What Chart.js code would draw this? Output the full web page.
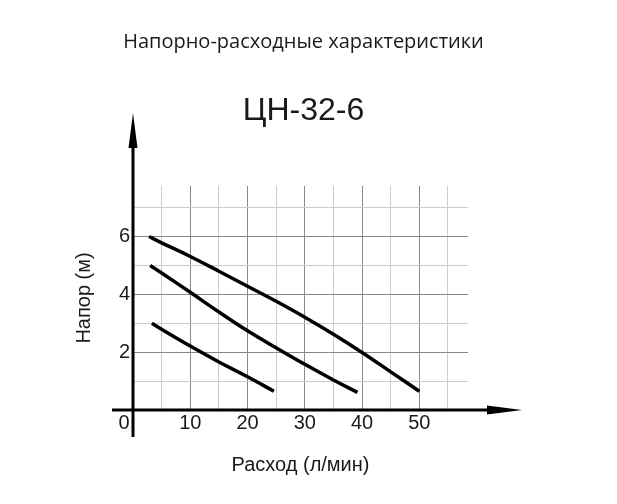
<!DOCTYPE html>
<html>
<head>
<meta charset="utf-8">
<script src="https://cdn.jsdelivr.net/npm/chart.js@4.4.1/dist/chart.umd.min.js"></script>
<style>
  body { margin: 0; background: #fff; }
</style>
</head>
<body>
<canvas id="pumpChart" width="617" height="504"></canvas>
<script>
// Head-flow curves, three speeds (flow l/min -> head m)
const flowHigh = [2.8, 5, 10, 15, 20, 25, 30, 35, 40, 45, 50];
const headHigh = [6.0, 5.78, 5.31, 4.80, 4.28, 3.76, 3.21, 2.62, 1.99, 1.32, 0.65];
const flowMid = [3, 5, 10, 15, 20, 25, 30, 35, 39.2];
const headMid = [5.0, 4.74, 4.07, 3.39, 2.74, 2.15, 1.58, 1.04, 0.61];
const flowLow = [3.3, 5, 10, 15, 20, 24.6];
const headLow = [3.0, 2.79, 2.21, 1.66, 1.15, 0.65];

const xTickLabels = [10, 20, 30, 40, 50];
const yTickLabels = [2, 4, 6];

const toPoints = (xs, ys) => xs.map((x, i) => ({ x: x, y: ys[i] }));

const curve = (xs, ys) => ({
    data: toPoints(xs, ys),
    borderColor: '#000',
    borderWidth: 3.5,
    borderCapStyle: 'butt',
    pointRadius: 0,
    tension: 0.4,
    fill: false
});

// axes with arrows + the lone "0" label
const arrowAxes = {
    id: 'arrowAxes',
    afterDraw(chart) {
        const c = chart.ctx;
        const x = chart.scales.x, y = chart.scales.y;
        const x0 = x.getPixelForValue(0), y0 = y.getPixelForValue(0);
        c.save();
        c.strokeStyle = '#000';
        c.fillStyle = '#000';
        c.lineWidth = 3;
        // x axis
        c.beginPath();
        c.moveTo(x0 - 21, y0);
        c.lineTo(490, y0);
        c.stroke();
        c.beginPath();
        c.moveTo(522, y0);
        c.lineTo(487, y0 - 4.5);
        c.lineTo(487, y0 + 4.5);
        c.closePath();
        c.fill();
        // y axis
        c.beginPath();
        c.moveTo(x0, y0 + 27);
        c.lineTo(x0, 145);
        c.stroke();
        c.beginPath();
        c.moveTo(x0, 113);
        c.lineTo(x0 - 4.5, 148);
        c.lineTo(x0 + 4.5, 148);
        c.closePath();
        c.fill();
        // origin label
        c.font = '20px "Liberation Sans", Arial, sans-serif';
        c.textAlign = 'center';
        c.textBaseline = 'middle';
        c.fillStyle = '#1a1a1a';
        c.fillText('0', x0 - 9, y0 + 13);
        c.restore();
    }
};

const tickFont = { family: '"Liberation Sans", Arial, sans-serif', size: 20 };

new Chart(document.getElementById('pumpChart'), {
    type: 'line',
    data: {
        datasets: [curve(flowHigh, headHigh), curve(flowMid, headMid), curve(flowLow, headLow)]
    },
    options: {
        responsive: false,
        animation: false,
        layout: { padding: { left: 0, right: 10, top: 0, bottom: 27 } },
        plugins: {
            legend: { display: false },
            tooltip: { enabled: false },
            title: {
                display: true,
                text: 'Напорно-расходные характеристики',
                color: '#1a1a1a',
                font: { family: '"Open Sans", sans-serif', size: 20, weight: 'normal' },
                padding: { top: 30, bottom: 38 }
            },
            subtitle: {
                display: true,
                text: 'ЦН-32-6',
                color: '#1a1a1a',
                font: { family: '"Liberation Sans", Arial, sans-serif', size: 32 },
                padding: { top: 0, bottom: 55.5 }
            }
        },
        scales: {
            x: {
                type: 'linear',
                min: 0,
                max: 58.5,
                border: { display: false },
                grid: {
                    drawTicks: false,
                    lineWidth: 1,
                    color: ctx => (ctx.tick && ctx.tick.value % 10 === 0) ? '#888888' : '#cccccc'
                },
                ticks: {
                    stepSize: 5,
                    includeBounds: false,
                    autoSkip: false,
                    maxRotation: 0,
                    padding: 1,
                    color: '#1a1a1a',
                    font: tickFont,
                    callback: v => xTickLabels.includes(v) ? String(v) : ''
                },
                title: {
                    display: true,
                    text: 'Расход (л/мин)',
                    color: '#1a1a1a',
                    font: tickFont,
                    padding: { top: 18, bottom: 0 }
                },
                afterFit: s => { s.height = 67; }
            },
            y: {
                min: 0,
                max: 7.75,
                border: { display: false },
                grid: {
                    drawTicks: false,
                    lineWidth: 1,
                    color: ctx => (ctx.tick && ctx.tick.value % 2 === 0) ? '#888888' : '#cccccc'
                },
                ticks: {
                    stepSize: 1,
                    includeBounds: false,
                    padding: 3,
                    color: '#1a1a1a',
                    font: tickFont,
                    callback: v => yTickLabels.includes(v) ? String(v) : ''
                },
                title: {
                    display: true,
                    text: 'Напор (м)',
                    color: '#1a1a1a',
                    font: tickFont,
                    padding: { top: 72, bottom: 23 }
                },
                afterFit: s => { s.width = 133; }
            },
            // empty spacer on the right so the headings centre on the page
            spacer: {
                type: 'linear',
                position: 'right',
                display: true,
                border: { display: false },
                grid: { display: false },
                ticks: { display: false },
                afterFit: s => { s.width = 139; }
            }
        }
    },
    plugins: [arrowAxes]
});
</script>
</body>
</html>
